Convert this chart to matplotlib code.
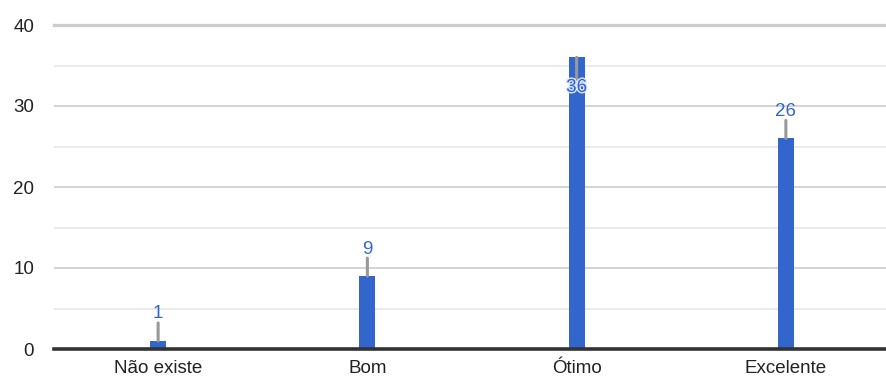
import matplotlib
matplotlib.use("Agg")
import matplotlib.pyplot as plt
import matplotlib.patheffects as pe

categories = ["Não existe", "Bom", "Ótimo", "Excelente"]
values = [1, 9, 36, 26]
yticks = [0, 10, 20, 30, 40]

plt.rcParams['font.family'] = ['Liberation Sans', 'DejaVu Sans']

fig = plt.figure(figsize=(8.86, 3.83), dpi=100)
ax = fig.add_axes([53.5/886, 1-349/383, 837/886, (349-25)/383])

x = list(range(len(categories)))
ax.bar(x, values, width=0.077, color="#3366CC", zorder=3)

ax.set_xlim(-0.5, len(categories)-0.5)
ax.set_ylim(0, 40)

# gridlines
for v in [5, 15, 25, 35]:
    ax.axhline(v, color="#ebebeb", lw=1.5, zorder=1)
for v in [10, 20, 30]:
    ax.axhline(v, color="#cccccc", lw=1.2, zorder=1)
ax.axhline(40, color="#cccccc", lw=2.4, zorder=1, clip_on=False)
ax.axhline(0, color="#333333", lw=2.6, zorder=4, clip_on=False)

for s in ax.spines.values():
    s.set_visible(False)

ax.set_yticks(yticks)
ax.set_yticklabels([str(t) for t in yticks])
ax.set_xticks(x)
ax.set_xticklabels(categories)
ax.tick_params(axis='both', length=0, labelsize=13.5, labelcolor="#222222")
ax.tick_params(axis='y', pad=14)
ax.tick_params(axis='x', pad=8)

for i, v in zip(x, values):
    if v <= 33:
        ax.annotate('', xy=(i, v), xytext=(0, 18), textcoords='offset pixels',
                    xycoords='data',
                    arrowprops=dict(arrowstyle='-', color='#999999', lw=2.2,
                                    shrinkA=0, shrinkB=0), zorder=5)
        ax.annotate(str(v), xy=(i, v), xytext=(0, 27), textcoords='offset pixels',
                    ha='center', va='center', color="#3366CC", fontsize=13.5, zorder=6)
    else:
        ax.annotate('', xy=(i, v), xytext=(0, -22), textcoords='offset pixels',
                    xycoords='data',
                    arrowprops=dict(arrowstyle='-', color='#999999', lw=2.2,
                                    shrinkA=0, shrinkB=0), zorder=5)
        ax.annotate(str(v), xy=(i, v), xytext=(0, -30), textcoords='offset pixels',
                    ha='center', va='center', color="#3366CC", fontsize=13.5, zorder=6,
                    path_effects=[pe.withStroke(linewidth=2, foreground="#dde6ff")])

fig.savefig("out.png", dpi=100)
